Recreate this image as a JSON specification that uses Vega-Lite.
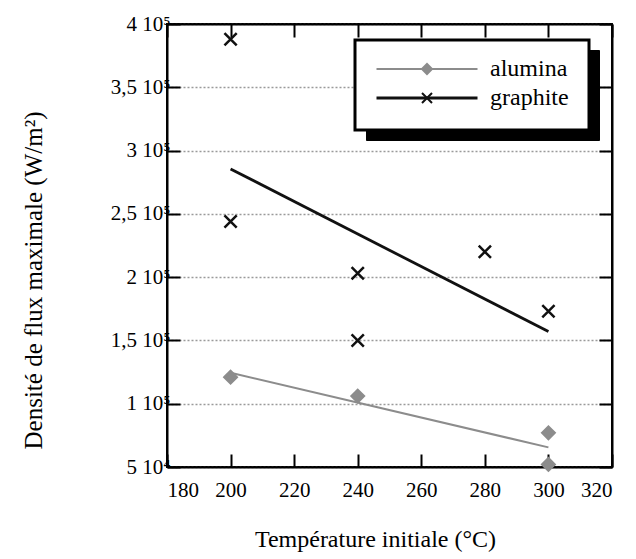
{
  "$schema": "https://vega.github.io/schema/vega-lite/v6.json",
  "width": 445,
  "height": 443,
  "autosize": {"type": "none"},
  "padding": {"left": 167, "top": 24, "right": 24, "bottom": 92},
  "background": "white",
  "config": {
    "font": "Liberation Serif, Times New Roman, DejaVu Serif, serif",
    "view": {"stroke": "black", "strokeWidth": 2},
    "axis": {
      "domainColor": "black", "domainWidth": 2,
      "tickColor": "black", "tickWidth": 2, "tickSize": -13,
      "labelFont": "Liberation Serif, Times New Roman, DejaVu Serif, serif", "labelFontSize": 21, "labelColor": "black",
      "titleFont": "Liberation Serif, Times New Roman, DejaVu Serif, serif", "titleFontWeight": "normal", "titleColor": "black"
    }
  },
  "datasets": {
    "fits": [
      {"series": "alumina", "temp": 200, "flux": 124500},
      {"series": "alumina", "temp": 300, "flux": 65500},
      {"series": "graphite", "temp": 200, "flux": 285500},
      {"series": "graphite", "temp": 300, "flux": 157000}
    ],
    "points": [
      {"kind": "alumina", "temp": 200, "flux": 121000},
      {"kind": "alumina", "temp": 240, "flux": 106000},
      {"kind": "alumina", "temp": 300, "flux": 77000},
      {"kind": "alumina", "temp": 300, "flux": 52000},
      {"kind": "graphite", "temp": 200, "flux": 388000},
      {"kind": "graphite", "temp": 200, "flux": 244000},
      {"kind": "graphite", "temp": 240, "flux": 203000},
      {"kind": "graphite", "temp": 240, "flux": 150000},
      {"kind": "graphite", "temp": 280, "flux": 220000},
      {"kind": "graphite", "temp": 300, "flux": 173000}
    ],
    "shadow": [{"sh": "alumina"}, {"sh": "graphite"}]
  },
  "layer": [
    {
      "data": {"name": "fits"},
      "mark": {"type": "line", "clip": false},
      "encoding": {
        "x": {
          "field": "temp", "type": "quantitative",
          "scale": {"domain": [180, 320], "nice": false, "zero": false},
          "axis": {
            "orient": "bottom", "values": [180, 200, 220, 240, 260, 280, 300, 320],
            "title": "Température initiale (°C)", "titleFontSize": 24,
            "labelPadding": 25, "grid": false,
            "titleX": 208, "titleY": 79, "titleBaseline": "alphabetic", "titleAlign": "center"
          }
        },
        "y": {
          "field": "flux", "type": "quantitative",
          "scale": {"domain": [50000, 400000], "nice": false, "zero": false},
          "axis": {
            "orient": "left",
            "values": [50000, 100000, 150000, 200000, 250000, 300000, 350000, 400000],
            "labelExpr": "datum.value >= 100000 ? replace(format(datum.value / 100000, '~g'), '.', ',') + ' 10⁵' : format(datum.value / 10000, '~g') + ' 10⁴'",
            "grid": true, "gridColor": "#9a9a9a", "gridDash": [2, 2], "gridWidth": 1.5,
            "labelPadding": 10,
            "title": "Densité de flux maximale (W/m²)", "titleFontSize": 25,
            "titleX": -126, "titleY": 256, "titleAngle": -90,
            "titleBaseline": "alphabetic", "titleAlign": "center"
          }
        },
        "color": {
          "field": "series", "type": "nominal",
          "scale": {"range": ["#8c8c8c", "#111111"]},
          "legend": {
            "title": null, "orient": "none", "legendX": 188, "legendY": 16,
            "direction": "vertical", "padding": 20,
            "fillColor": "white", "strokeColor": "black",
            "symbolType": "M-1,0H1", "symbolSize": 10201, "symbolStrokeWidth": 2,
            "clipHeight": 18, "rowPadding": 5, "labelOffset": 11,
            "labelFont": "Liberation Serif, Times New Roman, DejaVu Serif, serif", "labelFontSize": 24, "labelColor": "black",
            "zindex": 2,
            "encode": {"legend": {"update": {"strokeWidth": {"value": 3}}}}
          }
        },
        "strokeWidth": {
          "field": "series", "type": "nominal",
          "scale": {"range": [2, 2.8]},
          "legend": null
        }
      }
    },
    {
      "data": {"name": "points"},
      "mark": {"type": "point", "strokeWidth": 2.5, "size": 150, "opacity": 1},
      "encoding": {
        "x": {
          "field": "temp", "type": "quantitative",
          "scale": {"domain": [180, 320], "nice": false, "zero": false},
          "axis": {"orient": "top", "labels": false, "title": null, "grid": false,
                   "values": [180, 200, 220, 240, 260, 280, 300, 320]}
        },
        "y": {
          "field": "flux", "type": "quantitative",
          "scale": {"domain": [50000, 400000], "nice": false, "zero": false},
          "axis": {"orient": "right", "labels": false, "title": null, "grid": false,
                   "values": [50000, 100000, 150000, 200000, 250000, 300000, 350000, 400000]}
        },
        "shape": {
          "field": "kind", "type": "nominal",
          "scale": {"range": ["diamond", "M-1,-1L1,1M1,-1L-1,1"]},
          "legend": {
            "title": null, "orient": "none", "legendX": 228, "legendY": 16,
            "padding": 20, "symbolSize": 100, "symbolStrokeWidth": 2,
            "clipHeight": 18, "rowPadding": 5, "labelOpacity": 0, "labelFontSize": 24,
            "zindex": 3
          }
        },
        "fill": {
          "field": "kind", "type": "nominal",
          "scale": {"range": ["#8c8c8c", "transparent"]},
          "legend": {
            "title": null, "orient": "none", "legendX": 228, "legendY": 16,
            "padding": 20, "symbolSize": 100, "symbolStrokeWidth": 2,
            "clipHeight": 18, "rowPadding": 5, "labelOpacity": 0, "labelFontSize": 24,
            "zindex": 3
          }
        },
        "stroke": {
          "field": "kind", "type": "nominal",
          "scale": {"range": ["#8c8c8c", "#111111"]},
          "legend": {
            "title": null, "orient": "none", "legendX": 228, "legendY": 16,
            "padding": 20, "symbolSize": 100, "symbolStrokeWidth": 2,
            "clipHeight": 18, "rowPadding": 5, "labelOpacity": 0, "labelFontSize": 24,
            "zindex": 3
          }
        }
      }
    },
    {
      "data": {"name": "shadow"},
      "mark": {"type": "point", "opacity": 0},
      "encoding": {
        "strokeDash": {
          "field": "sh", "type": "nominal",
          "legend": {
            "title": null, "orient": "none", "legendX": 199, "legendY": 26,
            "direction": "vertical", "padding": 20,
            "fillColor": "black", "strokeColor": "black",
            "symbolType": "M-1,0H1", "symbolSize": 10201, "symbolStrokeWidth": 2,
            "clipHeight": 18, "rowPadding": 5, "labelOffset": 11,
            "labelFont": "Liberation Serif, Times New Roman, DejaVu Serif, serif", "labelFontSize": 24, "labelColor": "black",
            "zindex": 1,
            "encode": {"legend": {"update": {"strokeWidth": {"value": 3}}}}
          }
        }
      }
    }
  ],
  "resolve": {"axis": {"x": "independent", "y": "independent"}}
}
